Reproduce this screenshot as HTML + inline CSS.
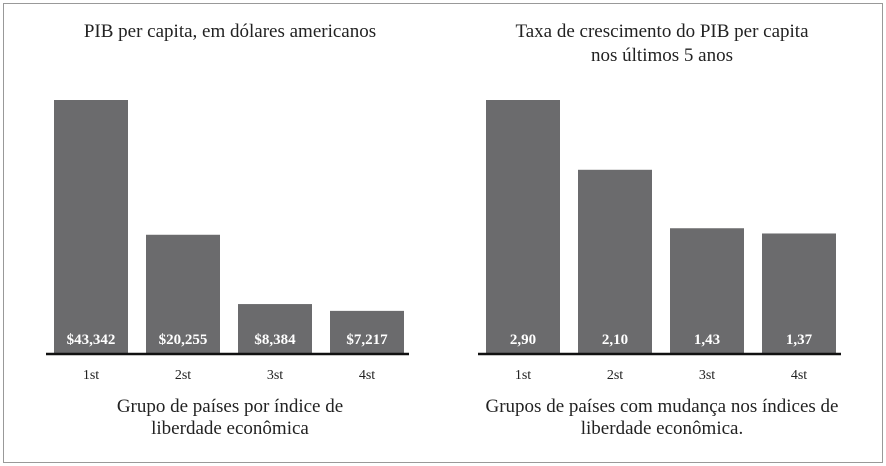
<!DOCTYPE html>
<html><head><meta charset="utf-8"><style>
body{margin:0;background:#fff;}
svg{display:block;font-family:"Liberation Serif",serif;}
</style></head><body>
<svg id="c" width="886" height="466">
<rect x="3.5" y="3.5" width="879" height="459" fill="none" stroke="#999" stroke-width="1"/>
<text x="230" y="37" text-anchor="middle" font-size="19" fill="#222">PIB per capita, em dólares americanos</text>
<text x="662" y="37" text-anchor="middle" font-size="19" fill="#222">Taxa de crescimento do PIB per capita</text>
<text x="662" y="61" text-anchor="middle" font-size="19" fill="#222">nos últimos 5 anos</text>
<text x="230" y="412" text-anchor="middle" font-size="19" fill="#222">Grupo de países por índice de</text>
<text x="230" y="434" text-anchor="middle" font-size="19" fill="#222">liberdade econômica</text>
<text x="662" y="412" text-anchor="middle" font-size="19" fill="#222">Grupos de países com mudança nos índices de</text>
<text x="662" y="434" text-anchor="middle" font-size="19" fill="#222">liberdade econômica.</text>
<g id="left"></g>
<g id="right"></g>
</svg>
<script>
const categories = ["1st","2st","3st","4st"];
const gdpValues = [43342, 20255, 8384, 7217];
const gdpLabels = ["$43,342","$20,255","$8,384","$7,217"];
const growthValues = [2.90, 2.10, 1.43, 1.37];
const growthLabels = ["2,90","2,10","1,43","1,37"];
const NS="http://www.w3.org/2000/svg";
function mk(tag,attrs,parent){const e=document.createElementNS(NS,tag);for(const k in attrs)e.setAttribute(k,attrs[k]);parent.appendChild(e);return e;}
function draw(gid,x0,values,labels,prefix){
  const g=document.getElementById(gid);
  const base=353, maxH=253, maxV=Math.max(...values);
  const y=v=>base-v/maxV*maxH;
  const step=92, bw=74;
  values.forEach((v,i)=>{
    const x=x0+i*step;
    const r=mk('rect',{x:x,y:y(v),width:bw,height:base-y(v),fill:'#6b6b6d'},g);
    
    
    const t=mk('text',{x:x+bw/2,y:344,'text-anchor':'middle','font-size':'15','font-weight':'bold',fill:'#fff'},g);
    t.textContent=labels[i];
    
    
    const c=mk('text',{x:x+bw/2,y:379,'text-anchor':'middle','font-size':'14',fill:'#222'},g);
    c.textContent=categories[i];
    
    
  });
  const l=mk('line',{x1:x0-8,x2:x0+3*step+bw+5,y1:354,y2:354,stroke:'#111','stroke-width':2.5},g);
  
  
}
draw('left',54,gdpValues,gdpLabels,'left');
draw('right',486,growthValues,growthLabels,'right');
</script>
</body></html>
